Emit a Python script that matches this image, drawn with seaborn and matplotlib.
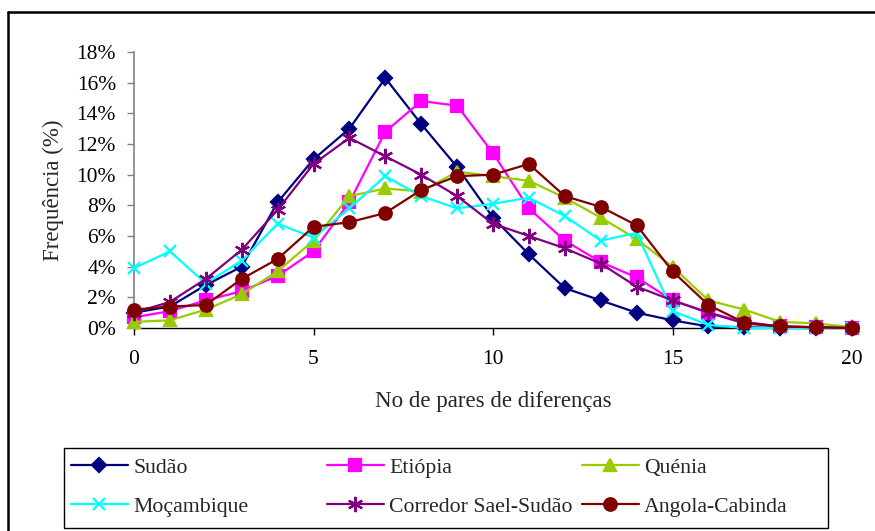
import matplotlib
matplotlib.use("Agg")
import matplotlib.pyplot as plt
from matplotlib.lines import Line2D
from matplotlib.patches import Rectangle
import numpy as np
import pandas as pd
import seaborn as sns

# Número de pares de diferenças (eixo x)
diferencas = list(range(21))

# Frequência (%) por população
sudao = [1.0, 1.4, 2.8, 4.0, 8.2, 11.0, 13.0, 16.3, 13.3, 10.5, 7.2, 4.8, 2.6, 1.8, 1.0, 0.5, 0.1, 0.05, 0.0, 0.0, 0.0]
etiopia = [0.7, 1.1, 1.8, 2.4, 3.4, 5.0, 8.2, 12.8, 14.8, 14.5, 11.4, 7.8, 5.7, 4.3, 3.3, 1.8, 1.0, 0.4, 0.1, 0.05, 0.0]
quenia = [0.4, 0.5, 1.2, 2.2, 3.7, 5.7, 8.6, 9.1, 8.9, 10.2, 9.9, 9.6, 8.5, 7.2, 5.8, 4.0, 1.8, 1.2, 0.4, 0.3, 0.05]
mocambique = [3.9, 5.0, 2.9, 4.4, 6.8, 5.9, 7.8, 9.9, 8.6, 7.8, 8.1, 8.5, 7.3, 5.7, 6.2, 1.1, 0.2, 0.0, 0.0, 0.0, 0.0]
corredor = [1.0, 1.7, 3.2, 5.1, 7.7, 10.7, 12.4, 11.2, 10.0, 8.6, 6.8, 6.0, 5.2, 4.2, 2.7, 1.8, 1.0, 0.3, 0.1, 0.05, 0.0]
angola = [1.2, 1.4, 1.5, 3.2, 4.5, 6.6, 6.9, 7.5, 9.0, 9.9, 10.0, 10.7, 8.6, 7.9, 6.7, 3.7, 1.5, 0.35, 0.1, 0.05, 0.0]

series_names = ["Sudão", "Etiópia", "Quénia", "Moçambique", "Corredor Sael-Sudão", "Angola-Cabinda"]
series_values = [sudao, etiopia, quenia, mocambique, corredor, angola]

y_ticks = [0, 2, 4, 6, 8, 10, 12, 14, 16, 18]
x_ticks = [0, 5, 10, 15, 20]

colors = {
    "Sudão": "#000080",
    "Etiópia": "#FF00FF",
    "Quénia": "#99CC00",
    "Moçambique": "#00FFFF",
    "Corredor Sael-Sudão": "#800080",
    "Angola-Cabinda": "#800000",
}
markers = {
    "Sudão": "D",
    "Etiópia": "s",
    "Quénia": "^",
    "Moçambique": "x",
    "Corredor Sael-Sudão": (6, 2, 0),
    "Angola-Cabinda": "o",
}
msizes = {
    "Sudão": 7.5,
    "Etiópia": 8,
    "Quénia": 9,
    "Moçambique": 9,
    "Corredor Sael-Sudão": 11,
    "Angola-Cabinda": 9,
}

df = pd.DataFrame({
    "x": np.tile(diferencas, len(series_names)),
    "freq": np.concatenate(series_values),
    "pop": np.repeat(series_names, len(diferencas)),
})

sns.set_theme(style="white")
plt.rcParams["font.family"] = ["Liberation Serif", "DejaVu Serif"]
plt.rcParams["font.size"] = 15

W, H = 875, 531
fig = plt.figure(figsize=(W / 100, H / 100), dpi=100)
ax = fig.add_axes([134 / W, 1 - 328 / H, (852 - 134) / W, (328 - 52) / H])

for name in series_names:
    sub = df[df["pop"] == name]
    c = colors[name]
    sns.lineplot(
        data=sub, x="x", y="freq", ax=ax, color=c, linewidth=1.6,
        marker=markers[name], markersize=msizes[name],
        markeredgecolor=c, markerfacecolor=c,
        markeredgewidth=1.6, clip_on=False, label=name, legend=False,
        zorder=3,
    )

ax.set_xlim(0, 20)
ax.set_ylim(0, 18)
ax.set_xticks(x_ticks)
ax.set_xticklabels([str(t) for t in x_ticks])
ax.set_yticks(y_ticks)
ax.set_yticklabels([f"{t}%" for t in y_ticks])
ax.tick_params(axis="both", which="major", direction="out", length=5, width=1,
               labelsize=15.5, colors="black", left=True, bottom=True)
ax.tick_params(axis="x", pad=11)
ax.tick_params(axis="y", pad=8, color="#808080")

for side in ["top", "right"]:
    ax.spines[side].set_visible(False)
ax.spines["left"].set_color("#808080")
ax.spines["left"].set_linewidth(1.2)
ax.spines["bottom"].set_color("black")
ax.spines["bottom"].set_linewidth(1.0)
ax.patch.set_alpha(0)

ax.set_xlabel("No de pares de diferenças", fontsize=16.5, labelpad=16)
ax.set_ylabel("Frequência (%)", fontsize=16.5, labelpad=9)

# Legenda: caixa com três colunas de largura igual
fig.add_artist(Rectangle((64 / W, 1 - 528 / H), (828 - 64) / W, (528 - 448) / H,
                         transform=fig.transFigure, facecolor="white",
                         edgecolor="black", linewidth=1.0, zorder=1))
columns = [["Sudão", "Moçambique"], ["Etiópia", "Corredor Sael-Sudão"], ["Quénia", "Angola-Cabinda"]]
col_x = [71, 327, 582]
for names, x0 in zip(columns, col_x):
    handles = [
        Line2D([0], [0], color=colors[n], linewidth=1.6, marker=markers[n],
               markersize=msizes[n], markeredgecolor=colors[n], markerfacecolor=colors[n],
               markeredgewidth=1.6)
        for n in names
    ]
    leg = fig.legend(
        handles, names, loc="center left",
        bbox_to_anchor=(x0 / W, 1 - 487 / H), frameon=False, fontsize=15.7,
        handlelength=2.6, handletextpad=0.25, borderaxespad=0, borderpad=0,
        labelspacing=0.85,
    )
    leg.set_zorder(2)

# Moldura exterior do gráfico
fig.add_artist(Line2D([8 / W, 8 / W], [0, 1 - 12 / H], color="black", linewidth=1.8,
                      transform=fig.transFigure))
fig.add_artist(Line2D([8 / W, 1], [1 - 12 / H, 1 - 12 / H], color="black", linewidth=1.8,
                      transform=fig.transFigure))

fig.savefig("out.png", dpi=100)
